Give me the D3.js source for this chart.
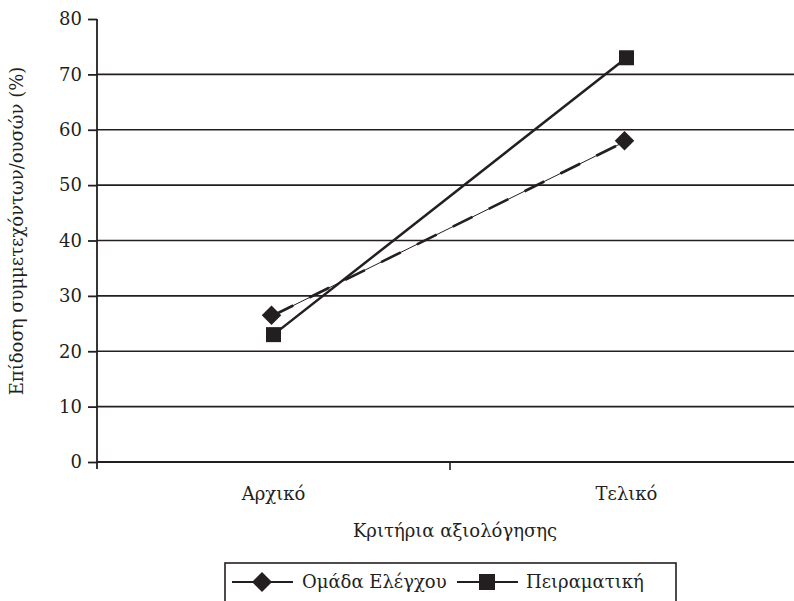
<!DOCTYPE html>
<html>
<head>
<meta charset="utf-8">
<script src="https://cdn.jsdelivr.net/npm/d3@7"></script>
<style>
body { margin: 0; background: #fff; }
svg { display: block; }
svg text { font-family: "DejaVu Serif", "Liberation Serif", serif; font-size: 18px; }
</style>
</head>
<body>
<svg id="chart" width="794" height="601"></svg>
<script>
var categories = ['Αρχικό', 'Τελικό'];
var controlValues = [26.5, 58];   // Ομάδα Ελέγχου
var expValues = [23, 73];         // Πειραματική
var yTicks = [0, 10, 20, 30, 40, 50, 60, 70, 80];

var svg = d3.select('#chart'),
	ink = '#231f20';

var x = d3.scaleBand().domain(categories).range([97, 803]),
	y = d3.scaleLinear().domain([0, 80]).range([462, 19]);

var cx = function(c) { return x(c) + x.bandwidth() / 2; };

// gridlines
svg.append('g').selectAll('line')
	.data(yTicks.filter(function(t) { return t > 0 && t < 80; }))
	.enter().append('line')
	.attr('x1', 97).attr('x2', 794)
	.attr('y1', function(d) { return y(d); })
	.attr('y2', function(d) { return y(d); })
	.attr('stroke', ink).attr('stroke-width', 1.6);

// y axis
var yAxis = svg.append('g')
	.attr('transform', 'translate(97,0)')
	.call(d3.axisLeft(y).tickValues(yTicks).tickSize(9).tickPadding(6));
yAxis.attr('font-family', null).attr('font-size', null);
yAxis.select('.domain').attr('stroke', ink).attr('stroke-width', 1.8)
	.attr('d', 'M0,' + y(80) + 'V' + (y(0) + 7));
yAxis.selectAll('.tick line').attr('stroke', ink).attr('stroke-width', 1.8);
yAxis.selectAll('text').attr('fill', ink);

// x axis
var xAxis = svg.append('g')
	.attr('transform', 'translate(0,' + y(0) + ')')
	.call(d3.axisBottom(x).tickSize(0).tickPadding(25));
xAxis.attr('font-family', null).attr('font-size', null);
xAxis.select('.domain').attr('stroke', ink).attr('stroke-width', 1.8)
	.attr('d', 'M97,0H794');
xAxis.selectAll('text').attr('fill', ink);
svg.append('line')
	.attr('x1', 450).attr('x2', 450).attr('y1', y(0)).attr('y2', y(0) + 8)
	.attr('stroke', ink).attr('stroke-width', 1.6);

// axis titles
svg.append('text')
	.attr('x', 455).attr('y', 537)
	.attr('text-anchor', 'middle').attr('fill', ink)
	.text('Κριτήρια αξιολόγησης');
svg.append('text')
	.attr('transform', 'translate(23,231) rotate(-90)')
	.attr('text-anchor', 'middle').attr('fill', ink)
	.text('Επίδοση συμμετεχόντων/ουσών (%)');

var line = d3.line()
	.x(function(d, i) { return cx(categories[i]); })
	.y(function(d) { return y(d); });

// experimental series
svg.append('path').datum(expValues)
	.attr('d', line).attr('fill', 'none')
	.attr('stroke', ink).attr('stroke-width', 2.5);

// control series: thin line with thicker dashes
svg.append('path').datum(controlValues)
	.attr('d', line).attr('fill', 'none')
	.attr('stroke', ink).attr('stroke-width', 1);
svg.append('path').datum(controlValues)
	.attr('d', line).attr('fill', 'none')
	.attr('stroke', ink).attr('stroke-width', 2.6)
	.attr('stroke-dasharray', '22,18');

var diamond = d3.symbol().type(d3.symbolSquare).size(190);
svg.append('g').selectAll('path')
	.data(controlValues).enter().append('path')
	.attr('d', diamond)
	.attr('transform', function(d, i) {
		return 'translate(' + (cx(categories[i]) - 2) + ',' + y(d) + ') rotate(45)';
	})
	.attr('fill', ink);

svg.append('g').selectAll('rect')
	.data(expValues).enter().append('rect')
	.attr('x', function(d, i) { return cx(categories[i]) - 7.5; })
	.attr('y', function(d) { return y(d) - 7.5; })
	.attr('width', 15).attr('height', 15)
	.attr('fill', ink);

// legend
var lg = svg.append('g');
lg.append('rect')
	.attr('x', 225).attr('y', 563).attr('width', 451).attr('height', 50)
	.attr('fill', 'none').attr('stroke', ink).attr('stroke-width', 1.6);
lg.append('line').attr('x1', 232).attr('x2', 293).attr('y1', 582).attr('y2', 582)
	.attr('stroke', ink).attr('stroke-width', 2);
lg.append('path').attr('d', d3.symbol().type(d3.symbolSquare).size(200))
	.attr('transform', 'translate(262,582) rotate(45)').attr('fill', ink);
lg.append('text').attr('x', 302).attr('y', 588).attr('fill', ink)
	.text('Ομάδα Ελέγχου');
lg.append('line').attr('x1', 457).attr('x2', 518).attr('y1', 582).attr('y2', 582)
	.attr('stroke', ink).attr('stroke-width', 2);
lg.append('rect').attr('x', 479).attr('y', 574).attr('width', 16).attr('height', 16)
	.attr('fill', ink);
lg.append('text').attr('x', 526).attr('y', 588).attr('fill', ink)
	.text('Πειραματική');
</script>
</body>
</html>
